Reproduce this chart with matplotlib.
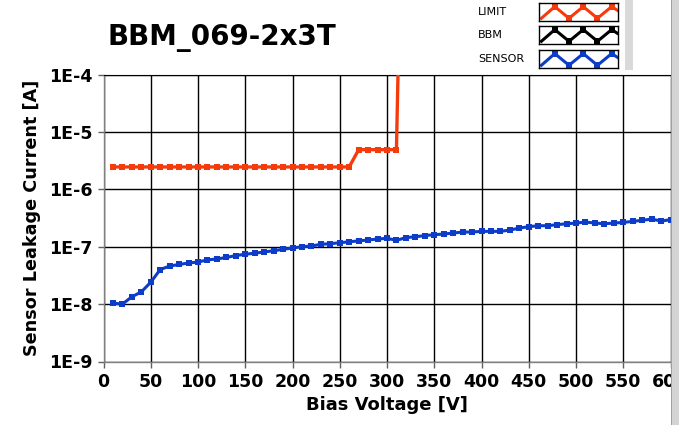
import numpy as np
import matplotlib
matplotlib.use("Agg")
import matplotlib.pyplot as plt
from matplotlib.patches import Rectangle

# ---------------- data ----------------
limit_v = [10, 20, 30, 40, 50, 60, 70, 80, 90, 100, 110, 120, 130, 140, 150,
           160, 170, 180, 190, 200, 210, 220, 230, 240, 250, 260,
           270, 280, 290, 300, 310, 312]
limit_i = [2.45e-6] * 26 + [4.9e-6] * 5 + [2e-4]

sensor_v = list(range(10, 601, 10))
sensor_i = [1.04e-8, 1.0e-8, 1.34e-8, 1.63e-8, 2.4e-8, 4.0e-8, 4.6e-8, 4.9e-8,
            5.2e-8, 5.4e-8, 5.9e-8, 6.1e-8, 6.5e-8, 7.0e-8, 7.4e-8, 7.7e-8,
            8.1e-8, 8.5e-8, 9.0e-8, 9.5e-8, 1.0e-7, 1.03e-7, 1.1e-7, 1.13e-7,
            1.17e-7, 1.22e-7, 1.26e-7, 1.31e-7, 1.36e-7, 1.40e-7, 1.29e-7,
            1.44e-7, 1.49e-7, 1.56e-7, 1.62e-7, 1.66e-7, 1.73e-7, 1.80e-7,
            1.80e-7, 1.85e-7, 1.85e-7, 1.85e-7, 1.95e-7, 2.11e-7, 2.23e-7,
            2.32e-7, 2.32e-7, 2.42e-7, 2.51e-7, 2.58e-7, 2.69e-7, 2.58e-7,
            2.51e-7, 2.58e-7, 2.65e-7, 2.76e-7, 2.88e-7, 3.03e-7, 2.80e-7,
            2.95e-7]

x_ticks = [0, 50, 100, 150, 200, 250, 300, 350, 400, 450, 500, 550, 600]
y_ticks = [1e-9, 1e-8, 1e-7, 1e-6, 1e-5, 1e-4]
y_ticklabels = ["1E-9", "1E-8", "1E-7", "1E-6", "1E-5", "1E-4"]

title = "BBM_069-2x3T"
legend_names = ["LIMIT", "BBM", "SENSOR"]
# zigzag shape shown in the legend sample boxes
zig_x = [0.03, 0.2, 0.38, 0.56, 0.74, 0.92, 0.99]
zig_y = [0.15, 0.8, 0.15, 0.8, 0.15, 0.8, 0.6]

RED = "#f53b0c"
BLUE = "#0c3cc8"
BLACK = "#000000"

W, H = 679, 425
fig = plt.figure(figsize=(W / 100, H / 100), dpi=100)
fig.patch.set_facecolor("white")

def fx(px):
    return px / W

def fy(py):
    return 1 - py / H

left, right, top, bottom = 103.5, 670.5, 74.5, 361.5
ax = fig.add_axes([fx(left), fy(bottom), fx(right) - fx(left), fy(top) - fy(bottom)])
ax.set_yscale("log")
ax.set_xlim(0, 600)
ax.set_ylim(1e-9, 1e-4)

ax.grid(True, which="major", color="black", linewidth=1.0)
ax.minorticks_off()
ax.set_axisbelow(True)

ax.plot(sensor_v, sensor_i, color=BLUE, lw=2.2, marker="s", ms=4.4,
        markeredgewidth=0, zorder=3, clip_on=True)
ax.plot(limit_v, limit_i, color=RED, lw=2.4, marker="s", ms=4.2,
        markeredgewidth=0, zorder=4, clip_on=True)

ax.set_xticks(x_ticks)
ax.set_yticks(y_ticks)
ax.set_yticklabels(y_ticklabels)
tick_font = dict(family="DejaVu Sans", weight="bold", size=12.5)
for lab in ax.get_xticklabels() + ax.get_yticklabels():
    lab.set_fontproperties(matplotlib.font_manager.FontProperties(**tick_font))
ax.tick_params(axis="both", direction="out", length=4, width=1, color="#606060",
               pad=4)
for s in ["left", "bottom"]:
    ax.spines[s].set_color("#808080")
    ax.spines[s].set_linewidth(1.0)
ax.spines["top"].set_color("black")
ax.spines["right"].set_visible(False)

ax.set_xlabel("Bias Voltage [V]", fontsize=13, fontweight="bold", labelpad=4)
ax.set_ylabel("Sensor Leakage Current [A]", fontsize=12.7, fontweight="bold",
              labelpad=6)

fig.text(fx(107), fy(38), title, fontsize=20, fontweight="bold",
         ha="left", va="center")

# legend panel
colors = [RED, BLACK, BLUE]
rows = [(3, 21), (26, 44), (50, 68)]
for name, col, (y0, y1) in zip(legend_names, colors, rows):
    fig.text(fx(478), fy((y0 + y1) / 2), name, fontsize=8, ha="left",
             va="center", color="black")
    lax = fig.add_axes([fx(539), fy(y1), fx(618) - fx(539), fy(y0) - fy(y1)])
    lax.set_xlim(0, 1)
    lax.set_ylim(0, 1)
    lax.set_xticks([])
    lax.set_yticks([])
    for s in lax.spines.values():
        s.set_color("black")
        s.set_linewidth(1.0)
    lax.plot(zig_x, zig_y, color=col, lw=2.2, marker="s", ms=4,
             markeredgewidth=0, markevery=[1, 2, 3, 4, 5])

# grey frame pieces
fig.patches.append(Rectangle((fx(625), fy(70)), fx(8), fy(0) - fy(70),
                             transform=fig.transFigure, facecolor="#d9d9d9",
                             edgecolor="none"))
fig.patches.append(Rectangle((fx(671), 0), fx(8), 1,
                             transform=fig.transFigure, facecolor="#d4d4d4",
                             edgecolor="none"))
fig.patches.append(Rectangle((fx(671), 0), fx(1.2), 1,
                             transform=fig.transFigure, facecolor="#a0a0a0",
                             edgecolor="none"))

fig.savefig("out.png", dpi=100)
